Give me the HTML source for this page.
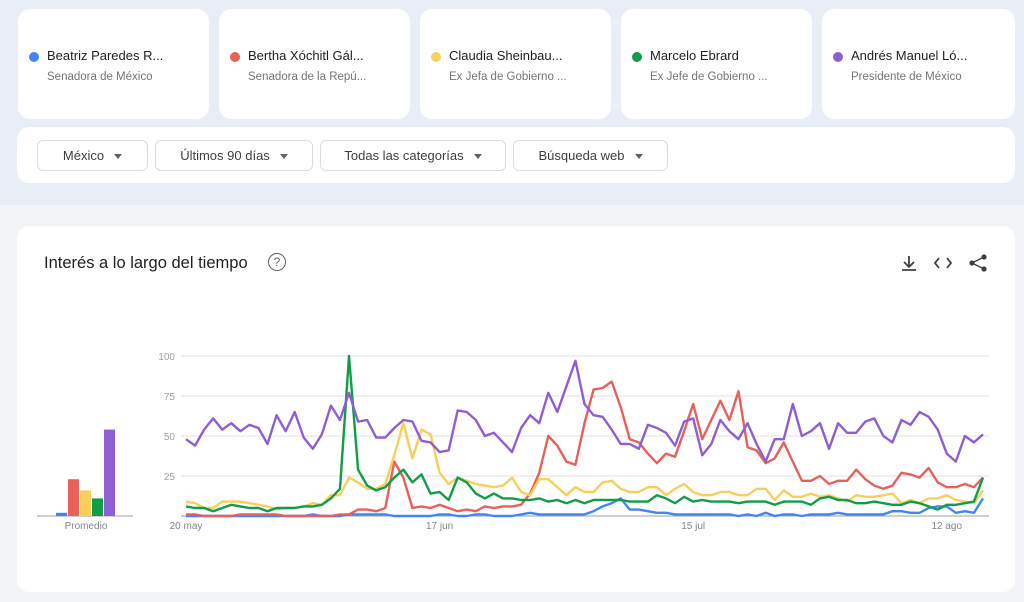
<!DOCTYPE html>
<html><head><meta charset="utf-8">
<style>
body{margin:0;width:1024px;height:602px;overflow:hidden;background:#f1f3f6;font-family:"Liberation Sans",sans-serif;position:relative}
.top{position:absolute;left:0;top:0;width:1024px;height:205px;background:#e9eef6}
.card{position:absolute;top:9px;width:191px;height:110px;background:#fff;border-radius:12px}
.card .dot{position:absolute;left:11px;top:43px;width:10px;height:10px;border-radius:50%}
.card .nm{position:absolute;left:29px;top:39px;font-size:13px;color:#202124;white-space:nowrap}
.card .sub{position:absolute;left:29px;top:62px;font-size:11.5px;color:#70757a;white-space:nowrap}
.filters{position:absolute;left:17px;top:127px;width:998px;height:56px;background:#fff;border-radius:12px}
.dd{position:absolute;top:13px;height:29px;border:1px solid #dadce0;border-radius:6px;font-size:13px;color:#3c4043;line-height:29px;text-align:center}
.dd:after{content:"";display:inline-block;margin-left:10px;border-left:4px solid transparent;border-right:4px solid transparent;border-top:5px solid #5f6368;vertical-align:middle}
.panel{position:absolute;left:17px;top:226px;width:998px;height:366px;background:#fff;border-radius:12px}
</style></head><body>
<div class="top"></div>
<div class="card" style="left:18px"><div class="dot" style="background:#4285f4"></div><div class="nm">Beatriz Paredes R...</div><div class="sub">Senadora de México</div></div>
<div class="card" style="left:219px"><div class="dot" style="background:#e8605a"></div><div class="nm">Bertha Xóchitl Gál...</div><div class="sub">Senadora de la Repú...</div></div>
<div class="card" style="left:420px"><div class="dot" style="background:#f8d15b"></div><div class="nm">Claudia Sheinbau...</div><div class="sub">Ex Jefa de Gobierno ...</div></div>
<div class="card" style="left:621px"><div class="dot" style="background:#0f9d48"></div><div class="nm">Marcelo Ebrard</div><div class="sub">Ex Jefe de Gobierno ...</div></div>
<div class="card" style="left:822px;width:193px"><div class="dot" style="background:#8d5fd3"></div><div class="nm">Andrés Manuel Ló...</div><div class="sub">Presidente de México</div></div>
<div class="filters">
<div class="dd" style="left:20px;width:109px">México</div>
<div class="dd" style="left:138px;width:156px">Últimos 90 días</div>
<div class="dd" style="left:303px;width:184px">Todas las categorías</div>
<div class="dd" style="left:496px;width:153px">Búsqueda web</div>
</div>
<div class="panel"></div>
<div style="position:absolute;left:44px;top:254px;font-size:16.5px;color:#202124">Interés a lo largo del tiempo</div>
<div style="position:absolute;left:268px;top:253px;width:16px;height:16px;border:1.6px solid #5f6368;border-radius:50%;font-size:12px;line-height:16px;text-align:center;color:#5f6368">?</div>
<svg style="position:absolute;left:0;top:0" width="1024" height="602" id="chart">
<g stroke="#3c4043" stroke-width="1.8" fill="none"><path d="M909 256v11M904 262l5 5 5-5M902 270h14"/></g>
<g stroke="#3c4043" stroke-width="1.8" fill="none"><path d="M939 258l-4 5 4 5M947 258l4 5-4 5"/></g>
<g fill="#3c4043"><circle cx="984" cy="257" r="2.6"/><circle cx="972" cy="263" r="2.6"/><circle cx="984" cy="269" r="2.6"/><path d="M972 263L984 257M972 263L984 269" stroke="#3c4043" stroke-width="1.4"/></g>
</svg>
<script>
const categories=["20 may","17 jun","15 jul","12 ago"];
const tickIdx=[0,28,56,84];
const yTicks=[25,50,75,100];
const averages=[2,23,16,11,54];
const colors=["#4285f4","#e8605a","#f8cf5a","#0f9d48","#8d5fd3"];
const blue=[0,0,0,0,0,0,0,0,0,0,0,0,0,0,1,0,0,0,1,1,1,1,1,0,0,0,0,0,1,1,0,0,1,1,0,0,0,1,2,1,1,1,1,1,1,3,6,8,11,4,4,3,2,2,1,1,1,1,1,1,1,0,1,0,2,0,1,1,0,1,1,1,2,1,1,1,1,1,3,3,2,2,5,6,6,2,3,2,11];
const red=[1,1,0,0,0,0,1,1,1,1,1,0,0,0,0,0,0,1,1,4,4,3,5,34,24,5,6,5,7,5,3,4,3,6,5,6,6,7,14,27,50,44,34,32,58,79,80,84,68,48,46,39,33,39,37,53,70,48,60,72,60,78,43,41,33,36,46,34,22,22,25,20,22,22,29,23,19,17,19,27,26,24,30,21,18,18,20,18,24];
const yellow=[9,8,5,5,9,9,9,8,7,6,4,5,5,6,8,7,13,13,24,21,17,17,20,38,58,36,54,51,27,20,24,22,20,19,18,19,24,15,13,23,23,18,13,18,15,15,21,22,17,15,15,18,18,13,17,20,15,13,13,15,15,13,13,17,17,10,16,12,12,14,12,13,11,9,13,12,12,13,14,8,10,8,11,11,13,10,9,8,16];
const green=[6,5,5,3,5,7,6,5,5,3,5,5,5,6,6,7,11,17,100,29,19,16,18,24,29,21,26,14,15,10,24,21,14,11,14,11,11,10,10,11,9,10,8,10,8,10,10,10,10,9,9,9,13,11,8,12,9,10,9,9,9,8,9,9,9,7,9,9,9,7,11,12,10,10,8,8,9,8,7,7,9,8,6,4,7,7,8,9,24];
const purple=[48,44,54,61,54,58,53,57,55,45,63,53,65,49,42,51,69,60,77,59,60,49,49,55,60,59,47,46,40,41,66,65,60,50,52,46,40,55,63,58,77,65,81,97,70,63,62,54,45,45,42,57,55,52,44,59,61,38,45,60,53,48,58,45,34,48,48,70,50,53,58,42,58,52,52,59,61,50,46,60,57,65,62,54,39,34,50,46,51];
const series=[blue,red,yellow,green,purple];
const names=["beatriz","bertha","claudia","marcelo","andres"];
const NS="http://www.w3.org/2000/svg";
const svg=document.getElementById("chart");
const X0=186,X1=983,Y0=516,YH=160;
const xs=i=>X0+(X1-X0)*i/(purple.length-1);
const ys=v=>Y0-v/100*YH;
function mk(t,a){const e=document.createElementNS(NS,t);for(const k in a)e.setAttribute(k,a[k]);svg.appendChild(e);return e;}
yTicks.forEach(t=>{
 const l=mk("line",{x1:181,x2:989,y1:ys(t),y2:ys(t),stroke:"#e0e0e0","stroke-width":1});
 
 
 const tx=mk("text",{x:175,y:ys(t)+4,"text-anchor":"end","font-size":10,fill:"#9aa0a6","font-family":"Liberation Sans"});
 tx.textContent=t;
 
 
});
const base=mk("line",{x1:181,x2:989,y1:Y0,y2:Y0,stroke:"#9aa0a6","stroke-width":1});


categories.forEach((c,k)=>{
 const tx=mk("text",{x:xs(tickIdx[k]),y:529,"text-anchor":"middle","font-size":10,fill:"#80868b","font-family":"Liberation Sans"});
 tx.textContent=c;
 
 
});
series.forEach((s,k)=>{
 const p=mk("polyline",{points:s.map((v,i)=>xs(i)+","+ys(v)).join(" "),fill:"none",stroke:colors[k],"stroke-width":2.4,"stroke-linejoin":"round"});
 
 
});
const ax=mk("line",{x1:37,x2:133,y1:Y0,y2:Y0,stroke:"#9aa0a6","stroke-width":1});


averages.forEach((v,k)=>{
 const r=mk("rect",{x:56+k*12,y:ys(v),width:11,height:v/100*YH,fill:colors[k]});
 
 
});
const pl=mk("text",{x:86,y:529,"text-anchor":"middle","font-size":10,fill:"#80868b","font-family":"Liberation Sans"});
pl.textContent="Promedio";


</script>
</body></html>
